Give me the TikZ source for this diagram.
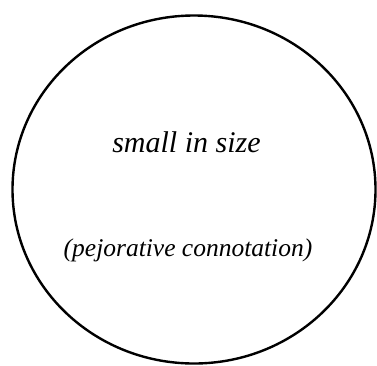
\documentclass[tikz,border=0pt]{standalone}
\usepackage{fontspec}
\setmainfont{Liberation Serif}
\usepackage{tikz}
\usetikzlibrary{positioning}

\begin{document}
\begin{tikzpicture}[
    x=1pt, y=-1pt,
    rim/.style={line width=2.4pt, draw=black},
    lab/.style={font=\itshape, inner sep=0pt, anchor=base}
  ]
    \useasboundingbox (0,0) rectangle (377,365);

    % outer ring
    \draw[rim] (194,189.5) ellipse [x radius=181.5, y radius=174];

    \node[lab, font=\fontsize{30}{34}\selectfont\itshape] (meaning) at (186.5,152) {small in size};
    \node[lab, font=\fontsize{25.5}{30}\selectfont\itshape] (connot) at (188,256) {(pejorative connotation)};
  \end{tikzpicture}
\end{document}
